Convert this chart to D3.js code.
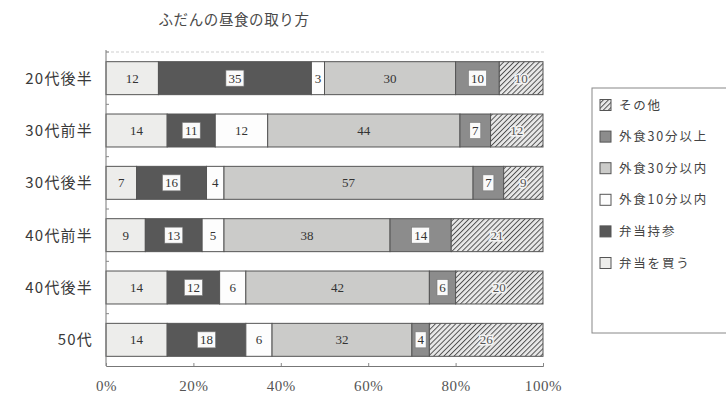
<!DOCTYPE html>
<html>
<head>
<meta charset="utf-8">
<script src="https://cdn.jsdelivr.net/npm/d3@7"></script>
<style>
  html, body { margin: 0; padding: 0; background: #ffffff; }
  svg { display: block; }
</style>
</head>
<body>
<script>
// Age groups (rows) and lunch-style shares in percent
const categories = ["20代後半", "30代前半", "30代後半", "40代前半", "40代後半", "50代"];
const seriesNames = ["弁当を買う", "弁当持参", "外食10分以内", "外食30分以内", "外食30分以上", "その他"];
const buyBento     = [12, 14, 7, 9, 14, 14];
const homeBento    = [35, 11, 16, 13, 12, 18];
const eatOut10     = [3, 12, 4, 5, 6, 6];
const eatOut30     = [30, 44, 57, 38, 42, 32];
const eatOutOver30 = [10, 7, 7, 14, 6, 4];
const other        = [10, 12, 9, 21, 20, 26];
const xTicks = [0, 20, 40, 60, 80, 100];
const titleText = "ふだんの昼食の取り方";

const seriesValues = [buyBento, homeBento, eatOut10, eatOut30, eatOutOver30, other];
const rows = categories.map((c, i) => {
  const r = { category: c };
  seriesNames.forEach((s, j) => { r[s] = seriesValues[j][i]; });
  return r;
});

const W = 726, H = 401;
const svg = d3.select("body").append("svg").attr("width", W).attr("height", H);
const defs = svg.append("defs");

// Diagonal hatch for "その他"
const pat = defs.append("pattern")
  .attr("id", "hatch").attr("patternUnits", "userSpaceOnUse")
  .attr("width", 3.6).attr("height", 3.6)
  .attr("patternTransform", "rotate(45)");
pat.append("rect").attr("width", 3.6).attr("height", 3.6).attr("fill", "#e8e8e8");
pat.append("line").attr("x1", 0).attr("y1", 0).attr("x2", 0).attr("y2", 3.6)
  .attr("stroke", "#4e4e4e").attr("stroke-width", 1.9);

const fills = {
  "弁当を買う": "#ededeb",
  "弁当持参": "#585858",
  "外食10分以内": "#fdfdfd",
  "外食30分以内": "#cbcbc9",
  "外食30分以上": "#8c8c8c",
  "その他": "url(#hatch)"
};
const boxedLabel = new Set(["弁当持参", "外食30分以上"]);

const x = d3.scaleLinear().domain([0, 100]).range([106, 543]);
const y = d3.scaleBand().domain(categories).range([52, 366])
  .paddingInner(0.37).paddingOuter(0.185);

const stack = d3.stack().keys(seriesNames);
const layers = stack(rows);

// Title
svg.append("text")
  .attr("x", 234).attr("y", 25)
  .attr("text-anchor", "middle")
  .attr("font-family", "'Noto Sans CJK JP', sans-serif")
  .attr("font-size", 14.5).attr("letter-spacing", 0.6)
  .attr("fill", "#4a4a4a")
  .text(titleText);

// Plot frame: faint top rule
svg.append("line")
  .attr("x1", x(0)).attr("x2", x(100) + 2).attr("y1", 52).attr("y2", 52)
  .attr("stroke", "#cfcfcf").attr("stroke-width", 1).attr("stroke-dasharray", "3,2");

// Bars
const gBars = svg.append("g");
layers.forEach(layer => {
  const key = layer.key;
  gBars.selectAll(null).data(layer).join("rect")
    .attr("x", d => x(d[0]))
    .attr("y", d => y(d.data.category))
    .attr("width", d => x(d[1]) - x(d[0]))
    .attr("height", y.bandwidth())
    .attr("fill", fills[key])
    .attr("stroke", "#555")
    .attr("stroke-width", 1);
});

// Value labels
const gLab = svg.append("g")
  .attr("font-family", "'Liberation Serif', 'DejaVu Serif', serif")
  .attr("font-size", 13);
layers.forEach(layer => {
  const key = layer.key;
  layer.forEach(d => {
    const v = d[1] - d[0];
    const cx = (x(d[0]) + x(d[1])) / 2;
    const cy = y(d.data.category) + y.bandwidth() / 2;
    const txt = String(v);
    if (boxedLabel.has(key)) {
      const bw = txt.length * 7 + 4;
      gLab.append("rect")
        .attr("x", cx - bw / 2).attr("y", cy - 8)
        .attr("width", bw).attr("height", 16)
        .attr("fill", "#fafafa").attr("stroke", "#777").attr("stroke-width", 0.6);
    }
    const t = gLab.append("text")
      .attr("x", cx).attr("y", cy + 4.5)
      .attr("text-anchor", "middle")
      .attr("fill", "#333")
      .text(txt);
    if (key === "その他") {
      t.attr("stroke", "#f4f4f4").attr("stroke-width", 3)
        .attr("paint-order", "stroke").attr("fill", "#555");
    }
  });
});

// Left axis line with small marks between rows
svg.append("line")
  .attr("x1", x(0)).attr("x2", x(0)).attr("y1", 50).attr("y2", 366)
  .attr("stroke", "#777").attr("stroke-width", 1);
categories.forEach((c, i) => {
  const yy = y(c) - (y.step() - y.bandwidth()) / 2;
  svg.append("line")
    .attr("x1", x(0)).attr("x2", x(0) + 3).attr("y1", yy).attr("y2", yy)
    .attr("stroke", "#888");
});

// Category labels
svg.append("g").selectAll("text").data(categories).join("text")
  .attr("x", 93)
  .attr("y", d => y(d) + y.bandwidth() / 2 + 5.5)
  .attr("text-anchor", "end")
  .attr("font-family", "'Noto Sans CJK JP', sans-serif")
  .attr("font-size", 15).attr("letter-spacing", 1.2)
  .attr("fill", "#3a3a3a")
  .text(d => d);

// Bottom axis
const xAxis = d3.axisBottom(x).tickValues(xTicks).tickFormat(d => d + "%").tickSize(-3).tickPadding(14);
const gx = svg.append("g").attr("transform", "translate(0,366)").call(xAxis);
gx.select(".domain").attr("stroke", "#777");
gx.selectAll(".tick line").attr("stroke", "#888");
gx.selectAll(".tick text")
  .attr("font-family", "'Liberation Serif', 'DejaVu Serif', serif")
  .attr("font-size", 15).attr("letter-spacing", 0.6)
  .attr("fill", "#555");

// Legend
const lg = svg.append("g");
lg.append("rect")
  .attr("x", 592).attr("y", 88).attr("width", 150).attr("height", 245)
  .attr("fill", "#fff").attr("stroke", "#888").attr("stroke-width", 1);
const legendOrder = seriesNames.slice().reverse();
legendOrder.forEach((s, i) => {
  const cy = 105 + i * 31.6;
  lg.append("rect")
    .attr("x", 600).attr("y", cy - 5.5).attr("width", 11).attr("height", 11)
    .attr("fill", fills[s]).attr("stroke", "#555").attr("stroke-width", 1);
  lg.append("text")
    .attr("x", 619).attr("y", cy + 4.5)
    .attr("font-family", "'Noto Sans CJK JP', sans-serif")
    .attr("font-size", 12.5).attr("letter-spacing", 1.8)
    .attr("fill", "#444")
    .text(s);
});
</script>
</body>
</html>
